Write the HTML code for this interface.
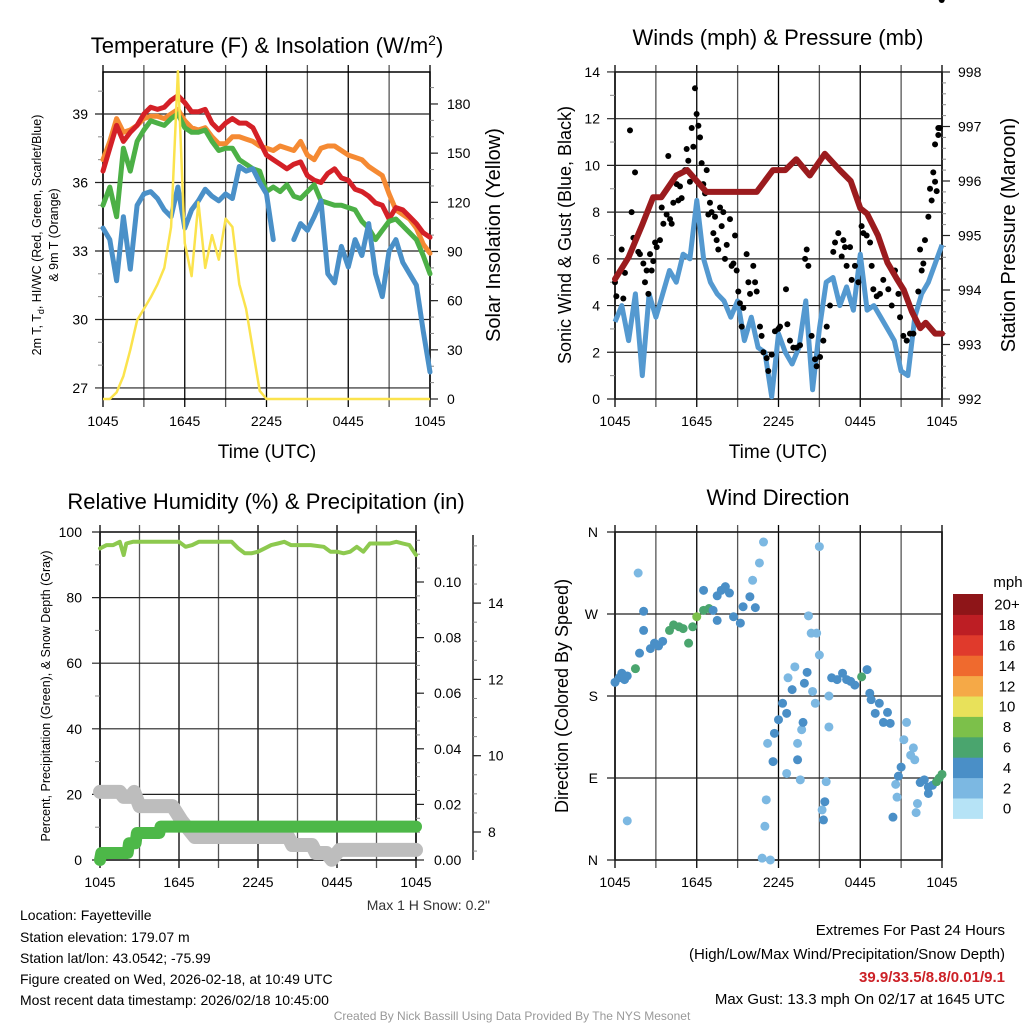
<!DOCTYPE html>
<html><head><meta charset="utf-8">
<style>
html,body{margin:0;padding:0;background:#fff;}
svg{display:block;font-family:"Liberation Sans",Arial,sans-serif;}
</style></head>
<body>
<svg id="chart" width="1024" height="1024" viewBox="0 0 1024 1024" xmlns="http://www.w3.org/2000/svg">
<rect width="1024" height="1024" fill="#fff"/>
<g id="g1"></g>
<g id="g2"></g>
<g id="g3"></g>
<g id="g4"></g>
<g id="gtext">
<text x="267" y="53" font-size="22" text-anchor="middle">Temperature (F) &amp; Insolation (W/m<tspan dy="-8" font-size="14">2</tspan><tspan dy="8">)</tspan></text>
<text x="778" y="45" font-size="22" text-anchor="middle">Winds (mph) &amp; Pressure (mb)</text>
<text x="266" y="509" font-size="22" text-anchor="middle">Relative Humidity (%) &amp; Precipitation (in)</text>
<text x="778" y="505" font-size="22" text-anchor="middle">Wind Direction</text>
<text x="267" y="458" font-size="19" text-anchor="middle">Time (UTC)</text>
<text x="778" y="458" font-size="19" text-anchor="middle">Time (UTC)</text>
<text transform="translate(41,235) rotate(-90)" font-size="12.5" text-anchor="middle">2m T, T<tspan dy="3" font-size="9">d</tspan><tspan dy="-3">, HI/WC (Red, Green, Scarlet/Blue)</tspan></text>
<text transform="translate(58,235) rotate(-90)" font-size="12.5" text-anchor="middle">&amp; 9m T (Orange)</text>
<text transform="translate(500,235) rotate(-90)" font-size="20" text-anchor="middle">Solar Insolation (Yellow)</text>
<text transform="translate(571,235) rotate(-90)" font-size="18" text-anchor="middle">Sonic Wind &amp; Gust (Blue, Black)</text>
<text transform="translate(1015,235) rotate(-90)" font-size="20" text-anchor="middle">Station Pressure (Maroon)</text>
<text transform="translate(50,696) rotate(-90)" font-size="12.5" text-anchor="middle">Percent, Precipitation (Green), &amp; Snow Depth (Gray)</text>
<text transform="translate(568,696) rotate(-90)" font-size="18" text-anchor="middle">Direction (Colored By Speed)</text>
<text x="490" y="910" font-size="14" text-anchor="end" fill="#333">Max 1 H Snow: 0.2"</text>
<text x="20" y="920" font-size="14">Location: Fayetteville</text>
<text x="20" y="942" font-size="14">Station elevation: 179.07 m</text>
<text x="20" y="963" font-size="14">Station lat/lon: 43.0542; -75.99</text>
<text x="20" y="984" font-size="14">Figure created on Wed, 2026-02-18, at 10:49 UTC</text>
<text x="20" y="1005" font-size="14">Most recent data timestamp: 2026/02/18 10:45:00</text>
<text x="1005" y="935" font-size="15" text-anchor="end">Extremes For Past 24 Hours</text>
<text x="1005" y="959" font-size="15" text-anchor="end">(High/Low/Max Wind/Precipitation/Snow Depth)</text>
<text x="1005" y="982" font-size="15" font-weight="bold" fill="#cc2127" text-anchor="end">39.9/33.5/8.8/0.01/9.1</text>
<text x="1005" y="1004" font-size="15" text-anchor="end">Max Gust: 13.3 mph On 02/17 at 1645 UTC</text>
<text x="512" y="1020" font-size="12" fill="#999" text-anchor="middle">Created By Nick Bassill Using Data Provided By The NYS Mesonet</text>
</g>
</svg>
<script>
// ---------- data ----------
const hours=[0,0.5,1,1.5,2,2.5,3,3.5,4,4.5,5,5.5,6,6.5,7,7.5,8,8.5,9,9.5,10,10.5,11,11.5,12,12.5,13,13.5,14,14.5,15,15.5,16,16.5,17,17.5,18,18.5,19,19.5,20,20.5,21,21.5,22,22.5,23,23.5,24];
const timeLabels=["1045","1645","2245","0445","1045"];
const tempRed=[36.5,37.5,38.5,37.8,38.2,38.5,39.0,39.3,39.2,39.3,39.6,39.8,39.5,39.1,39.1,39.2,38.6,38.3,38.6,38.8,38.6,38.6,38.4,37.8,37.2,37.0,36.8,36.6,36.8,36.9,36.3,36.1,36.0,36.4,36.6,36.2,36.1,35.7,35.6,35.4,35.1,35.0,34.4,34.9,34.8,34.5,34.2,33.8,33.6];
const tempOrange=[37.0,37.8,38.8,38.2,38.3,38.5,38.8,38.9,38.9,38.8,39.0,39.2,38.7,38.4,38.3,38.4,38.0,37.7,37.7,38.0,38.0,37.9,37.8,37.6,37.5,37.4,37.6,37.5,37.4,37.8,37.2,37.0,37.5,37.6,37.6,37.4,37.2,37.1,37.0,36.7,36.5,36.3,35.5,34.8,34.6,34.4,34.0,33.3,32.9];
const tempGreen=[35.0,35.8,34.5,37.5,36.5,37.8,38.3,38.7,38.6,38.5,38.8,39.0,38.4,38.2,38.2,38.3,37.8,37.4,37.5,37.5,37.0,36.8,36.6,36.5,35.6,35.8,35.6,35.9,35.4,35.3,35.6,35.9,35.2,35.1,35.0,35.0,34.9,34.8,34.3,34.0,33.5,33.9,34.3,34.4,34.1,33.8,33.5,32.8,32.0];
const tempBlue=[34.0,33.5,31.7,34.5,32.2,35.0,35.5,35.6,35.3,34.8,34.5,35.8,34.0,34.8,35.2,35.7,35.4,35.2,35.5,35.3,36.7,36.5,36.6,36.0,35.5,33.5,null,null,33.5,34.2,33.9,34.5,35.2,32.0,31.6,33.2,32.3,33.5,32.8,34.2,32.0,31.0,33.0,33.5,32.5,32.0,31.5,29.5,27.7];
const insolation=[0,0,4,14,30,48,55,62,70,80,105,200,95,75,120,80,100,85,110,105,70,55,30,5,0,0,0,0,0,0,0,0,0,0,0,0,0,0,0,0,0,0,0,0,0,0,0,0,0];
const windSpeed=[3.3,4.0,2.5,4.5,1.0,4.5,3.5,4.5,5.5,5.0,6.2,6.0,8.5,6.0,5.0,4.5,4.2,3.5,4.2,2.5,3.5,2.2,2.0,0.1,2.8,2.0,1.5,2.2,4.2,0.4,3.0,5.0,5.2,4.0,4.8,3.8,6.2,3.8,4.0,3.5,3.0,2.5,1.2,1.0,3.5,4.5,5.0,5.8,6.6];
const pressureHours=[0,1,2,2.8,3.4,4.5,5.3,6,6.7,8,9,10.4,11.6,12.5,13.3,14.3,15.4,16.5,17.3,18,18.5,19.3,20,20.7,21.2,21.8,22.4,22.8,23.5,24];
const pressure=[994.2,994.6,995.2,995.7,995.7,996.1,996.2,996.0,995.8,995.8,995.8,995.8,996.2,996.2,996.4,996.1,996.5,996.2,996.0,995.5,995.4,995.0,994.5,994.2,994.0,993.6,993.3,993.4,993.2,993.2];
const gustHours=[0,0.1,0.49,0.61,0.73,1.10,1.22,1.35,1.47,1.71,1.83,2.08,2.20,2.32,2.45,2.57,2.69,2.81,2.94,3.06,3.30,3.43,3.55,3.79,3.91,4.04,4.16,4.28,4.53,4.65,4.77,4.89,5.14,5.26,5.38,5.50,5.63,5.75,5.87,5.99,6.12,6.24,6.36,6.48,6.61,6.73,6.85,6.97,7.09,7.22,7.34,7.46,7.58,7.71,7.83,7.95,8.07,8.20,8.44,8.56,8.69,8.81,8.93,9.05,9.17,9.30,9.42,9.66,9.79,9.91,10.15,10.28,10.40,10.64,10.76,10.89,11.13,11.25,11.50,11.74,11.99,12.11,12.55,12.65,12.84,13.09,13.33,13.58,13.95,14.07,14.19,14.43,14.68,14.80,15.05,15.29,15.54,15.78,16.02,16.15,16.39,16.64,16.76,16.88,17.00,17.25,17.37,17.61,17.86,18.10,18.23,18.47,18.72,18.84,18.96,19.21,19.45,19.69,20.06,20.31,20.55,20.80,20.92,21.16,21.41,21.65,21.90,22.26,22.39,22.51,22.63,22.75,23.00,23.12,23.24,23.36,23.49,23.61,23.73,23.49,23.73,23.85,23.98];
const gustSpeed=[5.0,4.4,6.4,4.3,5.4,11.5,8.0,6.9,9.7,6.3,6.2,5.8,5.0,5.5,4.5,6.2,5.5,5.9,6.7,6.5,6.8,8.2,7.5,7.9,10.4,7.7,7.5,8.4,9.2,8.5,9.1,8.6,9.8,10.7,10.2,9.3,11.6,10.8,13.3,12.2,11.7,11.2,10.1,9.2,8.8,9.8,7.9,8.4,8.0,7.1,7.8,6.8,6.4,8.2,7.4,8.0,6.0,6.6,7.7,5.7,5.8,7.0,5.5,4.6,4.1,3.1,3.9,6.2,5.0,4.5,5.7,5.0,4.6,3.1,2.7,2.0,1.75,1.2,1.9,2.9,3.0,3.1,4.7,3.2,2.5,2.2,2.2,2.3,6.0,6.4,5.7,2.7,1.7,1.4,1.8,2.5,3.1,4.0,6.3,6.7,7.1,6.1,6.8,6.5,5.7,6.5,5.1,5.7,5.0,7.4,7.1,7.0,6.7,5.7,4.7,4.4,4.5,5.1,4.7,4.0,5.5,4.5,3.5,2.7,2.5,2.8,2.8,4.6,6.4,5.5,5.8,6.8,7.8,9.0,8.5,9.7,9.3,8.9,11.6,10.9,11.3,11.6];
const rhHours=[0,0.5,1,1.5,1.8,2,2.5,3,4,5,6,6.5,7,7.5,8,9,10,10.5,11,11.5,12,12.5,13,13.5,14,14.5,15,16,17,17.5,18,18.5,19,19.5,20,20.5,21,22,22.5,23,23.5,24];
const rh=[95,96,96,97,93,96.5,97,97,97,97,97,95.5,96,97,97,97,97,95,93.5,93.5,94,95,96,96.5,97,96,96,96,95.5,94,94,93.5,94,95.5,94,96.5,96.5,96.5,97,96.5,96,93];
const precipHours=[0,0.1,2.1,2.2,2.7,2.8,4.5,4.6,24];
const precip=[0,0.0025,0.0025,0.006,0.006,0.0097,0.0097,0.012,0.012];
const snowHours=[0,1.5,1.8,2.3,2.6,3.0,5.5,6.2,7.2,14.3,14.6,16.1,16.4,17.2,17.6,18.0,18.2,24];
const snowDepth=[9.05,9.05,8.92,8.92,9.05,8.68,8.68,8.3,7.87,7.87,7.66,7.66,7.45,7.45,7.27,7.45,7.53,7.53];
const dirHours=[0,0.3,0.5,0.7,0.9,0.9,1.7,1.5,1.8,2.1,2.1,2.6,2.9,3.2,3.5,4.0,4.3,4.7,5.0,5.4,5.7,6.0,6.5,6.9,7.2,6.5,7.5,7.8,8.1,8.4,7.5,8.7,9.2,9.4,9.9,10.1,10.3,10.6,10.9,10.8,11.4,11.1,11.0,11.2,11.6,11.7,12.0,12.3,12.6,12.7,13.2,12.6,13.0,13.4,13.4,13.6,13.7,13.8,13.9,14.1,14.2,14.4,14.5,14.7,15.0,14.8,15.0,15.2,15.3,15.4,15.5,15.7,15.7,15.9,16.3,16.7,17.0,17.3,17.6,18.1,18.5,18.7,18.8,19.1,19.4,19.7,20.0,20.2,20.4,20.7,20.6,20.8,21.0,21.2,21.4,21.7,21.9,22.0,22.2,22.1,22.4,22.7,23.0,23.3,23.0,23.6,23.8,24.0];
const dirDeg=[195,200,205,198,202,43,315,210,227,252,273,232,238,235,240,252,258,256,254,238,256,267,274,276,274,296,290,296,300,293,263,267,260,278,289,307,277,326,349,2,0,66,37,128,108,139,154,172,161,200,212,95,187,110,128,88,143,151,194,206,268,249,185,172,344,249,225,55,44,64,86,146,180,200,198,205,198,196,192,201,209,183,176,161,172,151,162,150,47,69,83,92,102,132,151,115,123,110,62,52,85,88,80,82,73,86,90,94];
const dirSpeed=[3,3,4,3,3,2,2,6,3,3,3,4,4,4,4,6,6,6,6,6,6,8,6,6,4,4,4,4,4,4,4,4,4,4,3,2,4,2,1,1,1,1,1,1,3,3,3,4,3,1,1,1,4,3,1,1,1,3,4,4,2,1,1,1,1,1,1,1,4,4,2,1,2,4,4,4,4,4,4,6,4,4,4,4,4,4,4,4,4,2,2,4,4,2,2,2,2,2,2,2,4,4,4,4,4,6,6,6];
const cbLabels=["0","2","4","6","8","10","12","14","16","18","20+"];
const cbColors=["#b6e3f6","#7cb8e2","#4a8fc7","#4aa56e","#7cc04a","#e8e15a","#f5a947","#ef6a2e","#e03a2c","#bd1e24","#8e1518"];

// ---------- helpers ----------
const NS="http://www.w3.org/2000/svg";
function mk(parent,tag,attrs,txt){const e=document.createElementNS(NS,tag);for(const k in attrs)e.setAttribute(k,attrs[k]);if(txt!==undefined)e.textContent=txt;parent.appendChild(e);return e;}
function pathFrom(xs,ys,fx,fy){let d="",pen=false;for(let i=0;i<xs.length;i++){if(ys[i]===null||ys[i]===undefined){pen=false;continue;}d+=(pen?"L":"M")+fx(xs[i]).toFixed(1)+","+fy(ys[i]).toFixed(1);pen=true;}return d;}
function stepPath(xs,ys,fx,fy){let d="";for(let i=0;i<xs.length;i++){d+=(i?"L":"M")+fx(xs[i]).toFixed(1)+","+fy(ys[i]).toFixed(1);}return d;}
function speedColor(s){let i=Math.min(10,Math.max(0,Math.floor((s+1)/2)));return cbColors[i];}

function frame(g,x0,x1,y0,y1,fx,name){
  for(let h=0;h<=24;h+=3){
    const x=fx(h);
    const l=mk(g,'line',{x1:x,x2:x,y1:y0-7,y2:y1+8,stroke:(h%6===0?'#000':'#555'),'stroke-width':1.3});
    
    
  }
  for(let i=0;i<timeLabels.length;i++){
    const t=mk(g,'text',{x:fx(i*6),y:y1+27,'font-size':14,'text-anchor':'middle'},timeLabels[i]);
    
    
  }
  const r=mk(g,'rect',{x:x0,y:y0,width:x1-x0,height:y1-y0,fill:'none',stroke:'#000','stroke-width':1.5});
  
  
}
function hgrid(g,x0,x1,ys,labels,lx){
  for(let i=0;i<ys.length;i++){
    const l=mk(g,'line',{x1:x0-8,x2:x1,y1:ys[i],y2:ys[i],stroke:'#222','stroke-width':1.2});
    
    
    const t=mk(g,'text',{x:lx,y:ys[i]+5,'font-size':14,'text-anchor':'end'},labels[i]);
    
    
  }
}
function rightAxis(g,x,ysMaj,labels,ysMin,lx){
  for(const y of ysMin){const l=mk(g,'line',{x1:x,x2:x+4,y1:y,y2:y,stroke:'#888','stroke-width':1});}
  for(let i=0;i<ysMaj.length;i++){
    const l=mk(g,'line',{x1:x,x2:x+8,y1:ysMaj[i],y2:ysMaj[i],stroke:'#222','stroke-width':1.2});
    
    
    const t=mk(g,'text',{x:lx,y:ysMaj[i]+5,'font-size':14},labels[i]);
    
    
  }
}
function range(a,b,s){const r=[];for(let v=a;v<=b+1e-9;v+=s)r.push(+v.toFixed(4));return r;}

// ---------- panel 1 ----------
(function(){
const g=document.getElementById('g1');
const fx=t=>103+t*13.625, fy=v=>114+(39-v)*22.83, fi=v=>399-v*1.639;
frame(g,103,430,72,399,fx,'temperature');
const tv=[27,30,33,36,39];
hgrid(g,103,430,tv.map(fy),tv.map(String),88);
for(const v of range(27,40,1)){if(v%3){const l=mk(g,'line',{x1:98,x2:103,y1:fy(v),y2:fy(v),stroke:'#888'});}}
rightAxis(g,430,range(0,180,30).map(fi),range(0,180,30).map(String),range(0,190,10).map(fi),447);
const series=[[tempOrange,'#f58a33','orange-9m-temp-line'],[tempRed,'#d42027','red-temp-line'],[tempGreen,'#4cb046','green-dewpoint-line'],[tempBlue,'#4a90c8','blue-windchill-line']];
for(const s of series){
  const p=mk(g,'path',{d:pathFrom(hours,s[0],fx,fy),fill:'none',stroke:s[1],'stroke-width':5,'stroke-linejoin':'round','stroke-linecap':'round'});
  
  
}
const y=mk(g,'path',{d:pathFrom(hours,insolation,fx,fi),fill:'none',stroke:'#fbe34d','stroke-width':2.5,'stroke-linejoin':'round'});


})();

// ---------- panel 2 ----------
(function(){
const g=document.getElementById('g2');
const fx=t=>615+t*13.625, fy=v=>399-v*23.36, fp=p=>399-(p-992)*54.5;
frame(g,615,942,72,399,fx,'wind');
const wv=[0,2,4,6,8,10,12,14];
hgrid(g,615,942,wv.map(fy),wv.map(String),600);
for(let v=1;v<14;v+=2){const l=mk(g,'line',{x1:610,x2:615,y1:fy(v),y2:fy(v),stroke:'#888'});}
const pv=[992,993,994,995,996,997,998];
rightAxis(g,942,pv.map(fp),pv.map(String),range(992,998,0.2).map(fp),958);
const b=mk(g,'path',{d:pathFrom(hours,windSpeed,fx,fy),fill:'none',stroke:'#5499d0','stroke-width':5,'stroke-linejoin':'round'});


for(let i=0;i<gustHours.length;i++){
  const c=mk(g,'circle',{cx:fx(gustHours[i]),cy:fy(gustSpeed[i]),r:3,fill:'#000'});
  
  
}
const m=mk(g,'path',{d:pathFrom(pressureHours,pressure,fx,fp),fill:'none',stroke:'#9b1b1e','stroke-width':6,'stroke-linejoin':'round','stroke-linecap':'round'});


})();

// ---------- panel 3 ----------
(function(){
const g=document.getElementById('g3');
const fx=t=>100+t*13.167, fy=v=>860-v*3.28, fpr=v=>860-v*2780, fs=s=>832-(s-8)*38.15;
frame(g,100,416,532,860,fx,'humidity');
const hv=[0,20,40,60,80,100];
hgrid(g,100,416,hv.map(fy),hv.map(String),82);
for(let v=10;v<100;v+=20){const l=mk(g,'line',{x1:95,x2:100,y1:fy(v),y2:fy(v),stroke:'#888'});}
const pv=[0,0.02,0.04,0.06,0.08,0.10];
rightAxis(g,416,pv.map(fpr),pv.map(v=>v.toFixed(2)),range(0,0.115,0.005).map(fpr),434);
const ax=mk(g,'line',{x1:473,x2:473,y1:535,y2:860,stroke:'#222','stroke-width':1.5});


const sv=[8,10,12,14];
rightAxis(g,473,sv.map(fs),sv.map(String),range(7.5,15.5,0.5).map(fs),488);
const s=mk(g,'path',{d:stepPath(snowHours,snowDepth,fx,fs),fill:'none',stroke:'#bdbdbd','stroke-width':14,'stroke-linejoin':'round','stroke-linecap':'round'});


const p=mk(g,'path',{d:stepPath(precipHours,precip,fx,fpr),fill:'none',stroke:'#4db848','stroke-width':12,'stroke-linejoin':'round','stroke-linecap':'round'});


const r=mk(g,'path',{d:pathFrom(rhHours,rh,fx,fy),fill:'none',stroke:'#8dc94f','stroke-width':4,'stroke-linejoin':'round','stroke-linecap':'round'});


})();

// ---------- panel 4 ----------
(function(){
const g=document.getElementById('g4');
const fx=t=>615+t*13.625, fy=d=>860-d*0.9111;
frame(g,615,942,532,860,fx,'direction');
const dv=[0,90,180,270,360], dl=["N","E","S","W","N"];
hgrid(g,615,942,dv.map(fy),dl,598);
for(let i=0;i<dirHours.length;i++){
  const c=mk(g,'circle',{cx:fx(dirHours[i]),cy:fy(dirDeg[i]),r:4.5,fill:speedColor(dirSpeed[i])});
  
  
}
const bh=20.4, top=594;
for(let i=0;i<cbColors.length;i++){
  const y=top+(cbColors.length-1-i)*bh;
  const r=mk(g,'rect',{x:953,y:y,width:30,height:bh+0.5,fill:cbColors[i]});
  
  
  const t=mk(g,'text',{x:1007,y:y+bh/2+5.5,'font-size':15,'text-anchor':'middle'},cbLabels[i]);
  
  
}
const u=mk(g,'text',{x:1008,y:587,'font-size':15,'text-anchor':'middle'},'mph');


})();
</script>
</body></html>
